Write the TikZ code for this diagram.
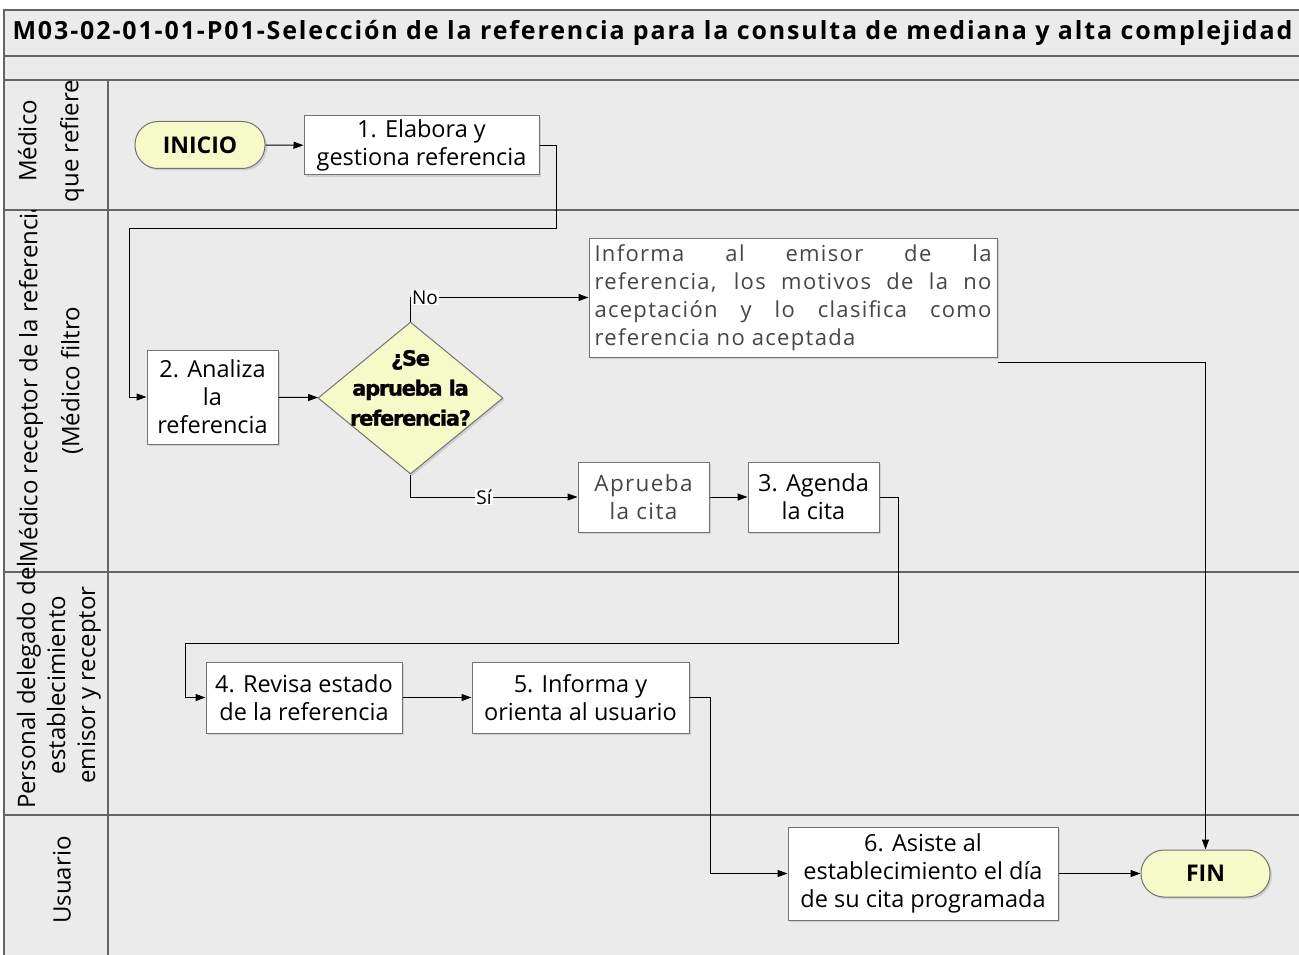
\documentclass[tikz,border=0pt]{standalone}
\usepackage{fontspec}
\setmainfont{Open Sans}
\newfontfamily\spacedfont[LetterSpace=6]{Open Sans}
\newfontfamily\titlefont[LetterSpace=7.5]{Open Sans}
\newfontfamily\decfont[LetterSpace=-6, BoldFeatures={FakeBold=1.2}]{DejaVu Sans}
\usetikzlibrary{shapes, arrows.meta, shadows, calc, positioning}
\definecolor{lanegray}{RGB}{235,235,235}
\definecolor{lineslate}{RGB}{100,100,100}
\definecolor{boxslate}{RGB}{115,115,115}
\definecolor{termyellow}{RGB}{246,249,200}
\definecolor{textslate}{RGB}{70,70,70}

\tikzset{
  lane/.style={draw=lineslate, line width=1.3pt, fill=lanegray},
  lanetext/.style={rotate=90, align=center, font=\fontsize{24}{42}\selectfont},
  stepbox/.style={draw=boxslate, line width=1pt, fill=white, align=center, inner sep=0pt,
    font=\fontsize{23.5}{28}\selectfont,
    drop shadow={shadow xshift=2pt, shadow yshift=-2pt, opacity=0.25}},
  termbox/.style={draw=boxslate, line width=1pt, fill=termyellow, rounded corners=23pt,
    font=\bfseries\fontsize{23}{23}\selectfont, minimum height=47pt, inner sep=0pt,
    drop shadow={shadow xshift=2pt, shadow yshift=-2pt, opacity=0.25}},
  flow/.style={draw=black, line width=1pt, -{Triangle[length=10pt,width=7pt]}},
  answer/.style={fill=white, inner sep=1pt, font=\fontsize{19}{19}\selectfont}
}

\begin{document}
\begin{tikzpicture}[x=1pt, y=-1pt]
  \useasboundingbox (0,0) rectangle (1299,955);

  % pool and lanes
  \draw[lane] (4,10) rectangle (1310,56);
  \draw[lane] (4,56) rectangle (1310,80);
  \draw[lane] (4,80) rectangle (1310,210);
  \draw[lane] (4,210) rectangle (1310,572);
  \draw[lane] (4,572) rectangle (1310,815);
  \draw[lane] (4,815) rectangle (1310,965);
  \draw[draw=lineslate, line width=1.3pt] (108,80) -- (108,965);

  \node[anchor=west, font=\titlefont\bfseries\fontsize{25}{25}\selectfont] (title) at (9,33)
    {M03-02-01-01-P01-Selección de la referencia para la consulta de mediana y alta complejidad};

  % lane labels
  \begin{scope}
    \clip (4,80) rectangle (108,210);
    \node[lanetext] (lmedico) at (51,141) {Médico\\que refiere};
  \end{scope}
  \begin{scope}
    \clip (4,210) rectangle (108,572);
    \node[lanetext] (lreceptor) at (51,381) {Médico receptor de la referencia\\(Médico filtro};
  \end{scope}
  \node[lanetext, font=\fontsize{24}{30}\selectfont] (lpersonal) at (59,685)
    {Personal delegado del\\establecimiento\\emisor y receptor};
  \node[lanetext] (lusuario) at (62,880) {Usuario};

  % steps
  \node[termbox, minimum width=130pt] (inicio) at (200,145) {INICIO};
  \node[stepbox, minimum width=235pt, minimum height=59pt] (b1) at (421.5,145.5)
    {1. Elabora y\\gestiona referencia};
  \node[stepbox, minimum width=131pt, minimum height=94pt] (b2) at (212.5,397)
    {2. Analiza\\la\\referencia};
  \node[diamond, draw=boxslate, line width=1pt, fill=termyellow, minimum width=185pt,
    minimum height=152pt, inner sep=0pt,
    drop shadow={shadow xshift=2pt, shadow yshift=-2pt, opacity=0.25}] (dec) at (410.5,398) {};
  \node[align=center, font=\decfont\bfseries\fontsize{21}{30}\selectfont] (dectxt) at (410.5,388)
    {¿Se\\aprueba la\\referencia?};
  \node[stepbox, minimum width=408pt, minimum height=119pt, align=left, text=textslate,
    font=\spacedfont\fontsize{22}{28}\selectfont] (info) at (793,297.5)
    {\makebox[397pt][s]{Informa al emisor de la}\\
     \makebox[397pt][s]{referencia, los motivos de la no}\\
     \makebox[397pt][s]{aceptación y lo clasifica como}\\
     referencia no aceptada};
  \node[stepbox, minimum width=131pt, minimum height=70pt, text=textslate,
    font=\spacedfont\fontsize{22.5}{28}\selectfont] (apr) at (643.5,497) {Aprueba\\la cita};
  \node[stepbox, minimum width=131pt, minimum height=70pt] (b3) at (813.5,497) {3. Agenda\\la cita};
  \node[stepbox, minimum width=196pt, minimum height=71pt] (b4) at (304,697.5)
    {4. Revisa estado\\de la referencia};
  \node[stepbox, minimum width=217pt, minimum height=71pt] (b5) at (580.5,697.5)
    {5. Informa y\\orienta al usuario};
  \node[stepbox, minimum width=270pt, minimum height=93pt] (b6) at (923,873.5)
    {6. Asiste al\\establecimiento el día\\de su cita programada};
  \node[termbox, minimum width=129pt] (fin) at (1205.5,873.5) {FIN};

  % connectors
  \draw[flow] (inicio) -- (b1);
  \draw[flow] (b1.east) -- ++(17,0) -- ++(0,83) -| ([xshift=-17pt]b2.west) -- (b2.west);
  \draw[flow] (b2) -- (dec);
  \draw[flow] (dec.north) |- node[answer, pos=0.5, anchor=west] {No} (info.west);
  \draw[flow] (dec.south) |- node[answer, pos=0.72] {Sí} (apr.west);
  \draw[flow] ([yshift=-5pt]info.south east) -| (fin.north);
  \draw[flow] (apr) -- (b3);
  \draw[flow] (b3.east) -- ++(19,0) -- ++(0,146) -| ([xshift=-20pt]b4.west) -- (b4.west);
  \draw[flow] (b4) -- (b5);
  \draw[flow] (b5.east) -- ++(21,0) |- (b6.west);
  \draw[flow] (b6) -- (fin);
\end{tikzpicture}
\end{document}
